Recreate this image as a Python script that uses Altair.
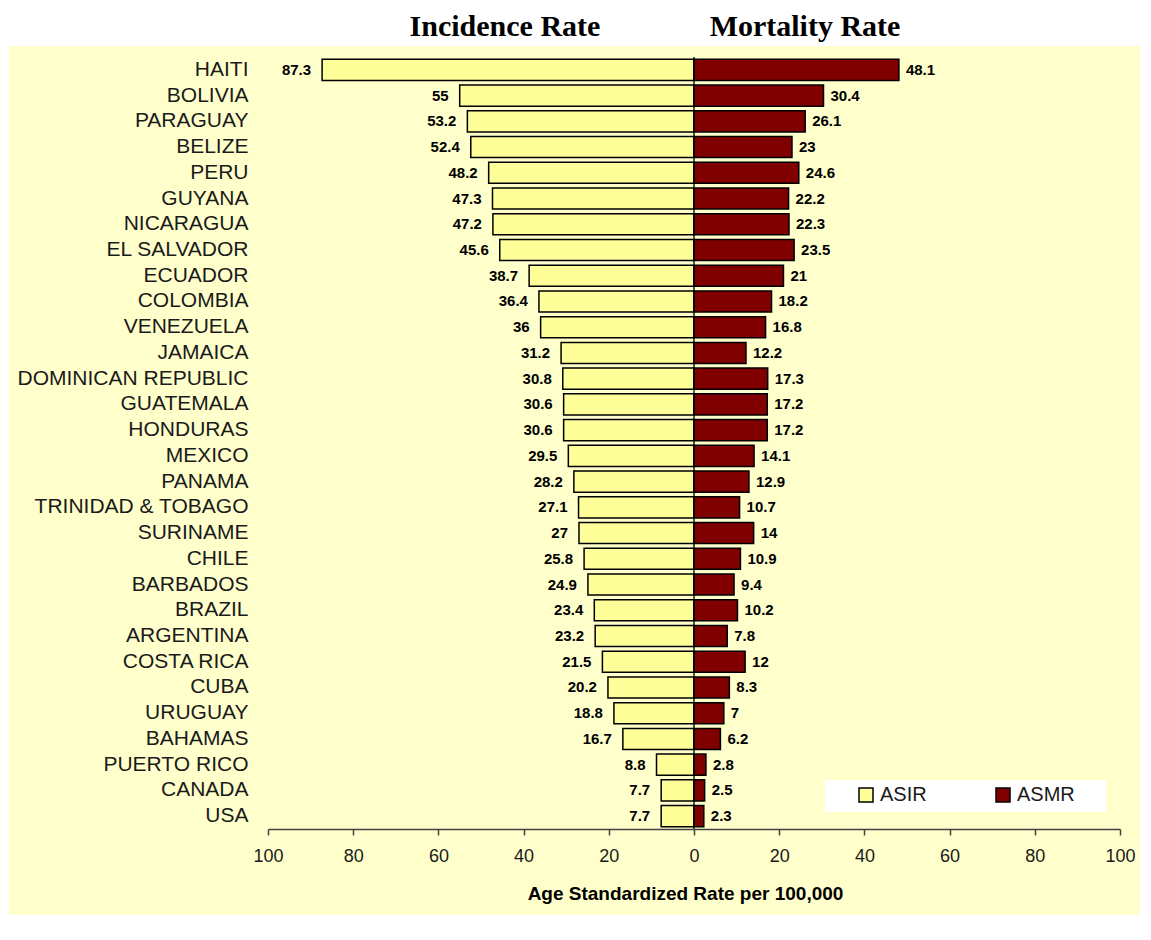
import altair as alt
import pandas as pd

NB = "\u00a0"
countries = ["HAITI", "BOLIVIA", "PARAGUAY", "BELIZE", "PERU", "GUYANA", "NICARAGUA",
             "EL SALVADOR" + NB, "ECUADOR", "COLOMBIA", "VENEZUELA", "JAMAICA",
             "DOMINICAN REPUBLIC" + NB, "GUATEMALA", "HONDURAS", "MEXICO", "PANAMA",
             "TRINIDAD & TOBAGO" + NB, "SURINAME", "CHILE", "BARBADOS" + NB, "BRAZIL", "ARGENTINA",
             "COSTA RICA" + NB, "CUBA", "URUGUAY", "BAHAMAS", "PUERTO RICO" + NB, "CANADA" + NB, "USA"]
asir = [87.3, 55, 53.2, 52.4, 48.2, 47.3, 47.2, 45.6, 38.7, 36.4, 36, 31.2, 30.8, 30.6, 30.6,
        29.5, 28.2, 27.1, 27, 25.8, 24.9, 23.4, 23.2, 21.5, 20.2, 18.8, 16.7, 8.8, 7.7, 7.7]
asmr = [48.1, 30.4, 26.1, 23, 24.6, 22.2, 22.3, 23.5, 21, 18.2, 16.8, 12.2, 17.3, 17.2, 17.2,
        14.1, 12.9, 10.7, 14, 10.9, 9.4, 10.2, 7.8, 12, 8.3, 7, 6.2, 2.8, 2.5, 2.3]
measures = ["ASIR", "ASMR"]
colors = ["#FFFF99", "#800000"]
titles = ["Incidence Rate", "Mortality Rate"]
x_ticks = [-100, -80, -60, -40, -20, 0, 20, 40, 60, 80, 100]

rows = []
for c, a, m in zip(countries, asir, asmr):
    rows.append({"country": c, "measure": "ASIR", "value": a, "signed": -a, "label": f"{a:g}"})
    rows.append({"country": c, "measure": "ASMR", "value": m, "signed": m, "label": f"{m:g}"})
df = pd.DataFrame(rows)
one = pd.DataFrame({"k": [0]})

FONT = "Liberation Sans"

y_enc = alt.Y("country:N", sort=countries,
              scale=alt.Scale(paddingInner=0.18, paddingOuter=0.09),
              axis=alt.Axis(title=None, ticks=False, domain=False, labelFontSize=21,
                            labelFont=FONT, labelColor="#1a1a1a", labelPadding=20,
                            labelLimit=400, zindex=1))
x_enc = alt.X("signed:Q", scale=alt.Scale(domain=[-100, 100], nice=False),
              axis=alt.Axis(values=x_ticks, labelExpr="abs(datum.value)", grid=False,
                            labelFlush=False,
                            title="Age Standardized Rate per 100,000",
                            titleFont=FONT, titleFontSize=19, titleFontWeight="bold",
                            titleColor="black", titlePadding=19, titleX=417,
                            titleAlign="center",
                            labelFont=FONT, labelFontSize=18, labelColor="#1a1a1a",
                            labelPadding=12, tickSize=6, tickColor="#404040",
                            domainColor="#404040", domainWidth=1.5, tickWidth=1.5,
                            zindex=1))

bg = alt.Chart(one).mark_rect(color="#FFFFCC").encode(
    x=alt.value(-259), x2=alt.value(872), y=alt.value(-11), y2=alt.value(858))

legend_box = alt.Chart(one).mark_rect(color="white").encode(
    x=alt.value(557), x2=alt.value(838), y=alt.value(723), y2=alt.value(755))

bars = alt.Chart(df).mark_bar(stroke="black", strokeWidth=1.5).encode(
    x=x_enc, y=y_enc,
    color=alt.Color("measure:N", scale=alt.Scale(domain=measures, range=colors),
                    legend=alt.Legend(title=None, orient="none", legendX=588, legendY=728,
                                      direction="horizontal", symbolType="square",
                                      symbolSize=196, symbolStrokeColor="black",
                                      symbolStrokeWidth=1.5, labelFont=FONT,
                                      labelFontSize=20, labelColor="#1a1a1a",
                                      labelOffset=4, columnPadding=66, padding=0)))

zero = alt.Chart(one).mark_rule(color="black", strokeWidth=1.3).encode(x=alt.datum(0))

txt_left = alt.Chart(df).transform_filter(alt.datum.measure == "ASIR").mark_text(
    align="right", baseline="middle", dx=-11, font=FONT, fontSize=15, fontWeight="bold",
    color="black").encode(x="signed:Q", y=alt.Y("country:N", sort=countries), text="label:N")

txt_right = alt.Chart(df).transform_filter(alt.datum.measure == "ASMR").mark_text(
    align="left", baseline="middle", dx=7, font=FONT, fontSize=15, fontWeight="bold",
    color="black").encode(x="signed:Q", y=alt.Y("country:N", sort=countries), text="label:N")

t1 = alt.Chart(one).mark_text(text=titles[0], font="Liberation Serif", fontSize=30,
                              fontWeight="bold", align="center", baseline="alphabetic",
                              color="black").encode(x=alt.value(237), y=alt.value(-21))
t2 = alt.Chart(one).mark_text(text=titles[1], font="Liberation Serif", fontSize=30,
                              fontWeight="bold", align="center", baseline="alphabetic",
                              color="black").encode(x=alt.value(537), y=alt.value(-21))

chart = alt.layer(bg, legend_box, bars, zero, txt_left, txt_right, t1, t2).properties(
    width=852, height=772,
    padding={"left": 260, "top": 49, "right": 20, "bottom": 95},
    autosize=alt.AutoSizeParams(type="none"),
    background="white",
).configure_view(stroke=None)

chart.save("out.html", embed_options={"renderer": "svg", "actions": False})
